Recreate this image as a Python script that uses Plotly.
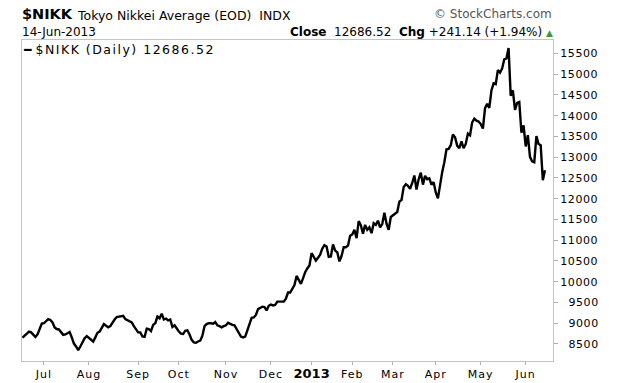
import pandas as pd
import plotly.graph_objects as go

# ---- Daily closes of $NIKK (one list per month) ----
jun12 = [8650, 8700, 8750, 8800, 8780, 8720, 8670, 8730, 8870, 8990]
jul12 = [9000, 9060, 9100, 9080, 9020, 8900, 8860, 8850, 8770, 8720, 8730,
         8760, 8790, 8660, 8510, 8440, 8350, 8440, 8530, 8640, 8690]
aug12 = [8640, 8600, 8560, 8660, 8770, 8800, 8880, 8980, 8940, 8900, 8930, 9020,
         9090, 9150, 9160, 9160, 9180, 9100, 9070, 9060, 9020, 8930, 8840]
sep12 = [8780, 8780, 8680, 8670, 8870, 8860, 8810, 8960, 9000, 9160, 9120, 9230,
         9090, 9110, 9070, 9090, 8910, 8950, 8870]
oct12 = [8800, 8750, 8740, 8820, 8830, 8730, 8600, 8540, 8530, 8560, 8580, 8700,
         8930, 8980, 9000, 9000, 8990, 9030, 8950, 8930, 8900, 8930]
nov12 = [8950, 9010, 8980, 8960, 8950, 8870, 8780, 8680, 8660, 8680, 8830, 9000,
         9130, 9140, 9200, 9340, 9370, 9400, 9390, 9310, 9420]
dec12 = [9450, 9430, 9440, 9520, 9520, 9530, 9520, 9590, 9740, 9740, 9830, 9920,
         10140, 10030, 9950, 10080, 10230, 10320, 10390]
jan13 = [10690, 10600, 10510, 10580, 10650, 10800, 10880, 10850, 10600, 10610,
         10900, 10750, 10710, 10490, 10620, 10830, 10830, 10870, 11110]
feb13 = [11140, 11250, 11050, 11460, 11360, 11160, 11370, 11250, 11310, 11170,
         11410, 11370, 11470, 11310, 11390, 11660, 11400, 11250, 11560]
mar13 = [11600, 11650, 11680, 11930, 11970, 12280, 12350, 12310, 12240, 12380,
         12560, 12220, 12470, 12630, 12340, 12550, 12470, 12490, 12340, 12400]
apr13 = [12150, 12010, 12360, 12640, 12880, 13190, 13200, 13290, 13550, 13480,
         13280, 13220, 13380, 13220, 13320, 13570, 13530, 13840, 13930, 13880, 13860]
may13 = [13800, 13690, 14180, 14290, 14190, 14610, 14780, 14760, 15100, 15040,
         15140, 15360, 15380, 15630, 14480, 14610, 14140, 14310, 14330, 13590, 13770]
jun13 = [13260, 13530, 13010, 12900, 12880, 13510, 13320, 13290, 12445.38, 12686.52]

# Tokyo market holidays inside the range (no bar on these weekdays)
holidays = ["2012-07-16", "2012-09-17", "2012-10-08", "2012-11-23", "2012-12-24",
            "2012-12-31", "2013-01-01", "2013-01-02", "2013-01-03", "2013-01-14",
            "2013-02-11", "2013-03-20", "2013-04-29", "2013-05-03", "2013-05-06"]

month_labels = ["Jul", "Aug", "Sep", "Oct", "Nov", "Dec", "2013",
                "Feb", "Mar", "Apr", "May", "Jun"]
y_ticks = [8500, 9000, 9500, 10000, 10500, 11000, 11500, 12000,
           12500, 13000, 13500, 14000, 14500, 15000, 15500]

closes = (jun12 + jul12 + aug12 + sep12 + oct12 + nov12 + dec12 +
          jan13 + feb13 + mar13 + apr13 + may13 + jun13)
days = pd.bdate_range("2012-06-18", "2013-06-14")
days = days[~days.isin(pd.to_datetime(holidays))]
assert len(days) == len(closes)
idx = list(range(len(closes)))

# first trading day of each month -> tick position
tickvals = [i for i in range(1, len(days)) if days[i].month != days[i - 1].month]
ticktext = []
for lab in month_labels:
    if lab.isdigit():
        ticktext.append("<span style='font-size:13px'><b>%s</b></span>" % lab)
    else:
        ticktext.append("<span style='letter-spacing:1px'>%s</span>" % lab)

ytext = []
for v in y_ticks:
    s = str(v)
    pad = "\u00a0\u00a0" * (5 - len(s))
    ytext.append("<span style='letter-spacing:0.6px'>%s%s</span>" % (pad, s))

last = closes[-1]
chg = closes[-1] - closes[-2]
pct = chg / closes[-2] * 100

FONT = "DejaVu Sans"
L, R, T, B = 22, 67, 40, 22
W, H = 620, 383
PW, PH = W - L - R, H - T - B


def px(x):
    return (x - L) / PW


def py(y):
    return (H - B - y) / PH


fig = go.Figure()
fig.add_trace(go.Scatter(
    x=idx, y=closes, mode="lines",
    line=dict(color="black", width=2.4),
    customdata=[d.strftime("%d-%b-%Y") for d in days],
    hovertemplate="%{customdata}: %{y:.2f}<extra></extra>",
    showlegend=False,
))

ann = [
    dict(text="<b>$NIKK</b>", x=px(20), y=py(14), xanchor="left",
         font=dict(size=14.5)),
    dict(text="Tokyo Nikkei Average (EOD)\u00a0 INDX", x=px(75), y=py(15),
         xanchor="left", font=dict(size=12.5)),
    dict(text="14-Jun-2013", x=px(20), y=py(32), xanchor="left",
         font=dict(size=12)),
    dict(text="\u00a9 StockCharts.com", x=px(554), y=py(14), xanchor="right",
         font=dict(size=12, color="#555555")),
    dict(text=("<b>Close</b>\u00a0\u00a0%.2f\u00a0\u00a0<b>Chg</b> %+.2f (%+.2f%%) "
               "<span style='color:#3a9a3a;font-size:9px'>\u25b2</span>")
         % (last, chg, pct),
         x=px(555), y=py(32), xanchor="right", font=dict(size=12)),
    dict(text="\u2501 <span style='letter-spacing:1.5px'>$NIKK (Daily) %.2f</span>" % last,
         x=px(21), y=py(49), xanchor="left", font=dict(size=12.5)),
]
for a in ann:
    a.update(xref="paper", yref="paper", yanchor="middle", showarrow=False)
    a["font"].setdefault("color", "black")
    a["font"]["family"] = FONT

fig.update_layout(
    width=W, height=H,
    margin=dict(l=L, r=R, t=T, b=B, pad=0, autoexpand=False),
    paper_bgcolor="white", plot_bgcolor="white",
    font=dict(family=FONT, color="black", size=11),
    annotations=ann,
    xaxis=dict(
        range=[-0.25, 247.75], tickmode="array", tickvals=tickvals, ticktext=ticktext,
        ticks="outside", ticklen=3, tickcolor="#b0b0b0", showgrid=False, zeroline=False,
        showline=True, mirror=True, linecolor="#c4c4c4", linewidth=1, automargin=False,
        tickfont=dict(size=11, color="black", family=FONT),
    ),
    yaxis=dict(
        side="right", range=[8090, 15825], tickmode="array", tickvals=y_ticks,
        ticktext=ytext, ticks="outside", ticklen=4, tickcolor="#b0b0b0",
        showgrid=False, zeroline=False, showline=True, mirror=True, automargin=False,
        linecolor="#c4c4c4", linewidth=1,
        tickfont=dict(size=11, color="black", family=FONT),
    ),
)

fig.write_html("out.html", config={"displayModeBar": False},
               post_script="document.body.style.margin='0';")
